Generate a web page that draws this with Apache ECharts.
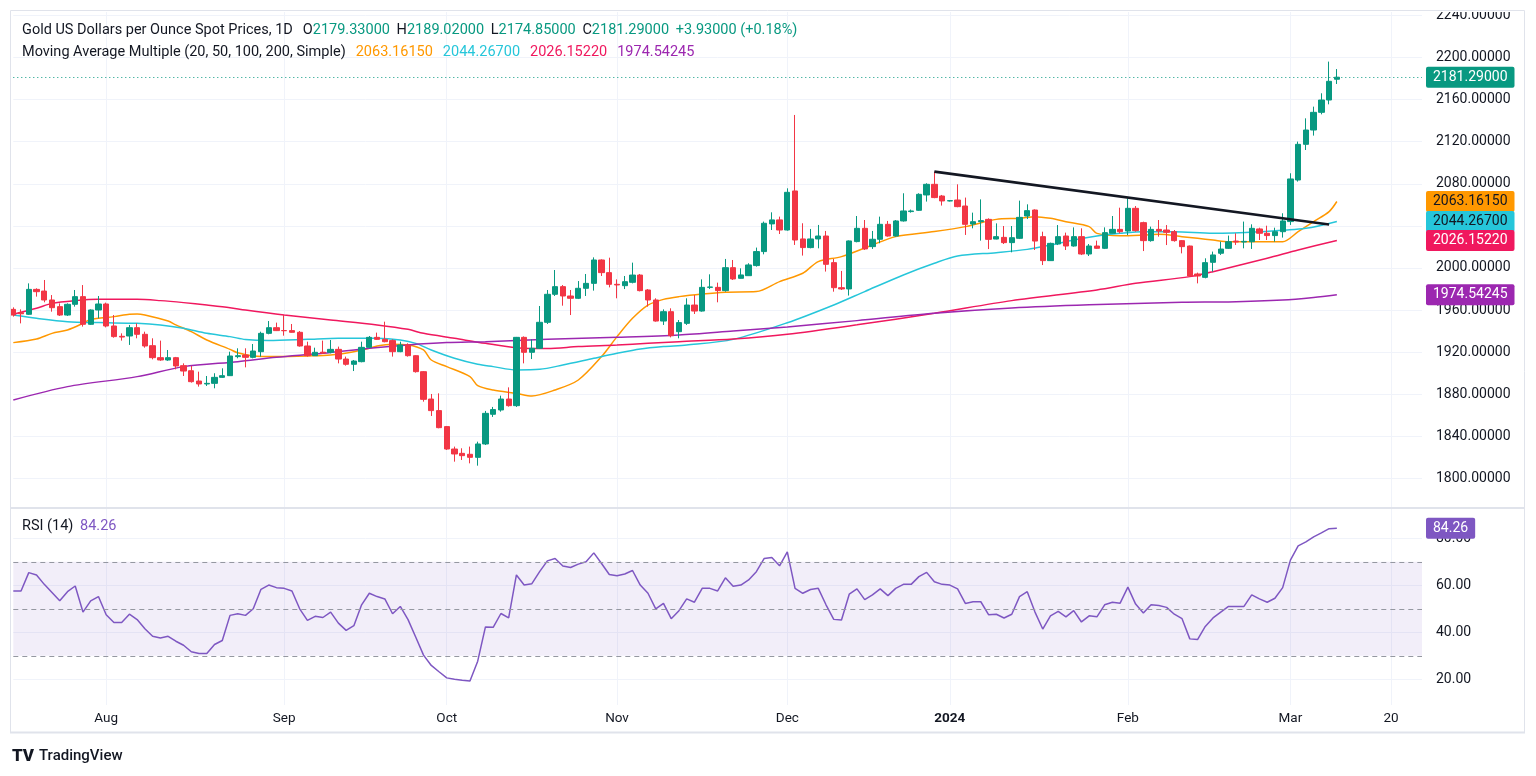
<!DOCTYPE html>
<html>
<head>
<meta charset="utf-8">
<title>Gold US Dollars per Ounce Spot Prices, 1D</title>
<script src="https://cdn.jsdelivr.net/npm/echarts/dist/echarts.min.js"></script>
<style>
  html, body { margin: 0; padding: 0; background: #fff; }
  #main { width: 1536px; height: 776px; }
</style>
</head>
<body>
<div id="main"></div>
<script>
// daily bars, [open, close, low, high]
const julBars = [
  [1960.7, 1955.3, 1953.8, 1962.6], [1957.5, 1956.5, 1947.4, 1960.7], [1956.0, 1979.7, 1955.4, 1985.4],
  [1979.7, 1977.5, 1972.8, 1980.7], [1978.1, 1969.6, 1967.4, 1988.6], [1969.6, 1962.3, 1958.5, 1974.3],
  [1963.3, 1955.3, 1954.4, 1966.4], [1955.3, 1965.5, 1954.4, 1966.4], [1965.5, 1972.8, 1963.3, 1979.1],
  [1972.8, 1946.5, 1944.3, 1983.8], [1946.5, 1960.1, 1945.9, 1960.7], [1960.1, 1965.8, 1952.2, 1973.4]
]
const augBars = [
  [1965.8, 1944.9, 1943.6, 1967.1], [1944.9, 1934.8, 1933.8, 1955.3], [1935.1, 1934.4, 1931.0, 1937.9],
  [1935.4, 1943.3, 1926.9, 1945.9], [1943.3, 1937.0, 1933.2, 1947.4], [1937.0, 1925.9, 1924.3, 1939.5],
  [1926.2, 1914.8, 1913.2, 1933.2], [1914.8, 1912.6, 1911.8, 1931.0], [1912.6, 1914.8, 1911.8, 1922.1],
  [1914.8, 1906.9, 1903.7, 1915.5], [1907.2, 1902.1, 1897.4, 1909.4], [1902.4, 1892.0, 1891.1, 1906.9],
  [1892.6, 1889.8, 1887.3, 1901.5], [1889.8, 1890.4, 1887.9, 1897.4], [1890.4, 1896.1, 1885.7, 1900.0],
  [1896.1, 1897.7, 1895.5, 1904.7], [1897.7, 1916.4, 1897.4, 1920.5], [1915.8, 1916.7, 1914.2, 1923.7],
  [1917.3, 1915.1, 1905.6, 1923.7], [1915.1, 1921.1, 1914.2, 1927.8], [1920.5, 1937.9, 1915.8, 1939.5],
  [1937.9, 1943.3, 1937.0, 1949.6], [1943.3, 1940.5, 1940.1, 1948.1]
]
const sepBars = [
  [1940.6, 1940.4, 1935.7, 1955.3], [1940.5, 1938.9, 1938.6, 1946.8], [1938.9, 1925.9, 1925.3, 1940.1],
  [1925.9, 1916.7, 1915.8, 1930.0], [1916.7, 1919.9, 1916.4, 1924.3], [1920.0, 1919.2, 1918.3, 1931.0],
  [1919.9, 1922.7, 1918.9, 1931.6], [1922.7, 1913.5, 1909.4, 1925.3], [1913.5, 1908.5, 1907.2, 1915.8],
  [1908.5, 1911.6, 1902.1, 1912.6], [1911.0, 1924.6, 1910.4, 1930.0], [1924.6, 1934.1, 1923.7, 1935.4],
  [1934.1, 1932.2, 1931.6, 1938.6], [1932.2, 1930.0, 1929.4, 1949.0], [1931.0, 1920.5, 1915.8, 1932.2],
  [1920.5, 1926.9, 1920.0, 1930.0], [1926.9, 1916.7, 1915.8, 1928.4], [1916.7, 1901.5, 1900.6, 1917.3],
  [1901.5, 1875.2, 1873.0, 1902.1], [1875.5, 1864.5, 1859.4, 1880.3], [1864.5, 1848.3, 1847.7, 1880.9]
]
const octBars = [
  [1849.3, 1828.0, 1827.1, 1849.9], [1828.0, 1823.3, 1816.0, 1830.3], [1823.9, 1821.7, 1817.6, 1828.7],
  [1823.0, 1820.1, 1814.4, 1830.3], [1820.1, 1832.8, 1812.2, 1835.0], [1832.8, 1861.9, 1831.8, 1864.2],
  [1861.0, 1865.5, 1858.5, 1868.0], [1865.1, 1875.5, 1863.5, 1878.7], [1875.5, 1869.2, 1868.3, 1886.6],
  [1869.2, 1934.1, 1868.0, 1934.5], [1934.1, 1919.9, 1909.4, 1935.0], [1919.9, 1923.7, 1913.5, 1932.2],
  [1923.7, 1948.4, 1923.0, 1963.9], [1948.4, 1975.0, 1946.8, 1979.1], [1975.0, 1982.3, 1973.4, 1998.1],
  [1982.3, 1973.4, 1964.2, 1983.8], [1973.4, 1971.2, 1955.3, 1979.1], [1971.2, 1980.7, 1970.5, 1987.6],
  [1980.7, 1985.4, 1973.4, 1994.3], [1985.4, 2007.6, 1978.5, 2010.1], [2007.6, 1995.6, 1992.4, 2008.2],
  [1995.6, 1984.5, 1981.6, 2009.8]
]
const novBars = [
  [1984.5, 1983.9, 1971.2, 1989.2], [1983.2, 1987.0, 1980.0, 1992.4], [1986.4, 1993.3, 1985.4, 2005.1],
  [1993.3, 1978.5, 1977.8, 1994.3], [1979.1, 1969.6, 1963.3, 1980.0], [1969.6, 1949.6, 1949.0, 1971.2],
  [1949.6, 1958.5, 1945.9, 1960.7], [1958.5, 1935.7, 1934.1, 1961.7], [1939.5, 1948.1, 1933.2, 1950.6],
  [1947.4, 1964.8, 1945.9, 1971.2], [1964.8, 1959.1, 1956.3, 1974.3], [1959.1, 1981.6, 1958.5, 1989.2],
  [1981.6, 1982.0, 1980.0, 1994.0], [1981.6, 1978.5, 1967.4, 1986.1], [1978.5, 2000.3, 1977.5, 2008.6],
  [2000.3, 1989.6, 1988.6, 2007.6], [1990.2, 1993.4, 1990.0, 1999.7], [1992.7, 2002.9, 1992.5, 2004.5],
  [2002.3, 2015.6, 2001.3, 2019.4], [2015.6, 2042.5, 2013.0, 2044.1], [2041.9, 2045.7, 2036.1, 2052.9],
  [2045.7, 2036.1, 2032.3, 2048.8]
]
const decBars = [
  [2036.1, 2071.9, 2035.5, 2075.7], [2073.2, 2026.6, 2021.9, 2145.4], [2027.6, 2019.4, 2011.8, 2042.5],
  [2019.4, 2027.6, 2018.7, 2037.1], [2027.6, 2030.4, 2018.7, 2040.9], [2030.4, 2003.5, 1996.6, 2035.2],
  [2005.1, 1981.3, 1977.5, 2008.6], [1981.3, 1980.1, 1979.1, 1997.2], [1980.1, 2025.7, 1973.8, 2026.2],
  [2025.1, 2037.7, 2024.4, 2049.4], [2037.7, 2018.1, 2017.1, 2045.6], [2020.3, 2027.3, 2018.1, 2035.2],
  [2027.3, 2041.5, 2023.5, 2048.8], [2041.5, 2030.4, 2029.8, 2044.7], [2030.4, 2044.7, 2029.8, 2045.6],
  [2044.7, 2054.2, 2044.1, 2071.0], [2053.6, 2054.2, 2052.6, 2055.5], [2054.8, 2070.0, 2054.2, 2071.0],
  [2069.4, 2079.5, 2063.1, 2080.5], [2079.5, 2066.9, 2066.3, 2091.6], [2068.4, 2063.7, 2059.3, 2069.4]
]
const janBars = [
  [2063.7, 2064.0, 2063.2, 2064.5], [2064.6, 2058.3, 2057.7, 2079.5], [2058.9, 2041.5, 2031.4, 2066.9],
  [2041.8, 2044.0, 2037.7, 2052.6], [2044.0, 2045.0, 2026.0, 2065.2], [2046.2, 2027.2, 2018.0, 2047.2],
  [2027.5, 2029.8, 2027.2, 2042.4], [2029.1, 2024.1, 2022.8, 2039.9], [2024.1, 2028.8, 2014.9, 2039.9],
  [2028.2, 2048.1, 2027.5, 2064.0], [2049.4, 2054.5, 2046.5, 2060.5], [2055.1, 2025.6, 2017.1, 2055.7],
  [2029.8, 2007.0, 2002.8, 2034.5], [2007.0, 2023.4, 2006.9, 2024.1], [2022.8, 2029.8, 2021.8, 2040.8],
  [2030.4, 2020.9, 2017.1, 2033.6], [2020.9, 2029.8, 2020.3, 2038.6], [2029.8, 2013.3, 2012.3, 2037.7],
  [2013.3, 2020.9, 2011.4, 2022.8], [2020.9, 2018.7, 2018.2, 2026.0], [2018.7, 2033.6, 2018.0, 2038.6],
  [2033.0, 2036.7, 2032.9, 2049.4], [2036.7, 2034.5, 2032.9, 2057.3]
]
const febBars = [
  [2035.1, 2056.7, 2031.3, 2066.2], [2056.7, 2035.5, 2034.5, 2058.9], [2043.1, 2026.0, 2016.1, 2044.0],
  [2026.0, 2036.7, 2025.0, 2039.3], [2036.7, 2035.1, 2029.8, 2045.6], [2036.1, 2033.9, 2021.8, 2040.8],
  [2034.5, 2026.0, 2025.0, 2036.1], [2026.0, 2020.3, 2013.9, 2026.6], [2020.9, 1992.4, 1991.8, 2021.3],
  [1994.3, 1992.4, 1985.4, 1995.6], [1991.1, 2005.1, 1990.2, 2009.2], [2005.4, 2012.4, 1996.5, 2015.6],
  [2014.0, 2018.0, 2012.4, 2025.0], [2018.7, 2025.0, 2018.1, 2030.8], [2025.6, 2024.7, 2021.9, 2033.0],
  [2024.7, 2025.3, 2018.7, 2044.1], [2025.0, 2037.7, 2018.1, 2041.5], [2037.1, 2033.0, 2026.6, 2038.3],
  [2033.0, 2030.8, 2026.6, 2040.2], [2030.8, 2034.5, 2025.0, 2038.3], [2034.5, 2044.7, 2028.9, 2052.0]
]
const marBars = [
  [2044.1, 2084.6, 2040.9, 2090.0], [2083.6, 2117.5, 2082.1, 2120.1], [2117.5, 2131.1, 2112.1, 2142.2],
  [2131.1, 2147.9, 2125.8, 2153.3], [2147.9, 2159.6, 2146.0, 2166.0], [2159.6, 2177.36, 2155.5, 2196.1],
  [2179.33, 2181.29, 2174.85, 2189.02]
]

// moving averages, [bar number, value]
const ma20Points = [
  [1, 1929.1], [4, 1932.5], [6, 1937.9], [8, 1941.1], [10, 1947.4], [11, 1951.2], [14, 1953.8], [16, 1956.0],
  [17, 1956.3], [18, 1955.3], [21, 1949.6], [22, 1945.9], [24, 1939.5], [26, 1931.6], [29, 1922.7], [30, 1919.4],
  [32, 1916.4], [35, 1915.8], [39, 1916.4], [42, 1917.3], [45, 1920.5], [47, 1923.7], [48, 1925.9], [50, 1927.5],
  [52, 1926.9], [54, 1922.1], [55, 1912.6], [57, 1906.3], [60, 1896.8], [61, 1888.3], [63, 1884.1], [66, 1880.9],
  [68, 1878.4], [71, 1884.1], [74, 1893.6], [77, 1915.8], [79, 1934.8], [81, 1952.2], [83, 1964.8], [85, 1970.2],
  [87, 1972.8], [90, 1975.3], [93, 1977.0], [97, 1977.6], [100, 1987.1], [103, 1995.0], [105, 2006.1], [108, 2010.8],
  [112, 2021.9], [115, 2029.8], [120, 2034.6], [124, 2039.3], [128, 2046.2], [131, 2047.2], [133, 2048.8], [135, 2047.2],
  [137, 2044.0], [140, 2039.3], [141, 2032.9], [144, 2030.7], [147, 2031.3], [149, 2032.0], [152, 2029.8], [154, 2028.2],
  [156, 2026.6], [158, 2025.0], [163, 2025.0], [165, 2025.0], [167, 2034.5], [169, 2044.0], [171, 2053.6], [172, 2063.1615]
]
const ma50Points = [
  [1, 1955.3], [4, 1952.2], [8, 1949.0], [12, 1948.1], [17, 1947.4], [20, 1945.9], [23, 1942.7], [26, 1937.9],
  [29, 1934.8], [31, 1932.0], [34, 1931.0], [39, 1932.2], [43, 1933.2], [48, 1933.2], [51, 1931.6], [53, 1928.4],
  [55, 1922.1], [58, 1914.2], [61, 1908.5], [63, 1906.3], [66, 1903.1], [69, 1903.7], [72, 1907.8], [76, 1914.2],
  [79, 1918.9], [82, 1923.0], [85, 1925.3], [88, 1926.8], [94, 1932.2], [101, 1948.0], [107, 1964.9], [111, 1977.6],
  [116, 1993.4], [120, 2004.5], [123, 2011.4], [128, 2014.6], [132, 2017.7], [135, 2021.8], [138, 2026.6], [141, 2030.4],
  [144, 2032.9], [147, 2034.5], [151, 2034.5], [156, 2033.0], [162, 2034.5], [168, 2037.7], [172, 2044.267]
]
const ma100Points = [
  [1, 1956.0], [4, 1961.7], [6, 1966.4], [9, 1969.0], [12, 1970.2], [17, 1970.2], [20, 1969.0], [23, 1967.1],
  [26, 1964.8], [29, 1962.3], [31, 1960.0], [36, 1955.3], [42, 1950.6], [48, 1945.9], [52, 1941.7], [54, 1937.9],
  [58, 1933.2], [62, 1928.4], [66, 1924.3], [70, 1923.4], [74, 1925.3], [79, 1926.8], [83, 1928.4], [87, 1930.0],
  [94, 1932.5], [101, 1937.0], [110, 1946.0], [120, 1957.0], [130, 1969.0], [141, 1979.1], [146, 1985.4], [153, 1991.8],
  [156, 1996.5], [163, 2009.2], [167, 2017.1], [172, 2026.1522]
]
const ma200Points = [
  [1, 1874.6], [8, 1887.3], [17, 1896.8], [23, 1906.3], [30, 1911.0], [35, 1915.1], [41, 1918.9], [47, 1923.7],
  [52, 1926.9], [57, 1929.1], [62, 1930.0], [70, 1932.2], [79, 1934.1], [87, 1936.3], [94, 1940.1], [101, 1944.0],
  [110, 1950.0], [120, 1957.0], [130, 1962.0], [140, 1965.0], [152, 1967.4], [158, 1967.8], [165, 1969.6], [169, 1972.0],
  [172, 1974.54245]
]
// drawn trend line, [bar number, value]
const trendPoints = [[120, 2091.6], [171, 2041.3]]

// RSI (14) per bar
const rsiJul = [57.6, 57.6, 65.4, 64.4, 60.4, 56.9, 53.4, 57.3, 59.7, 48.6, 53.4, 55.2]
const rsiAug = [47.5, 44.2, 44.2, 47.7, 45.4, 41.5, 38.3, 37.6, 38.3, 36.2, 34.5, 31.7, 31.0, 31.0, 34.8, 36.5,
  47.2, 47.9, 47.2, 50.0, 58.3, 60.1, 59.0]
const rsiSep = [58.7, 57.6, 50.0, 45.1, 46.8, 46.3, 48.6, 43.9, 40.8, 42.8, 51.7, 56.6, 55.2, 54.2, 47.9, 51.0,
  45.4, 37.9, 30.3, 25.9, 23.2]
const rsiOct = [20.6, 20.0, 19.6, 19.3, 27.7, 42.3, 42.1, 48.0, 46.1, 64.4, 60.1, 60.7, 65.8, 70.4, 71.4, 68.2,
  67.6, 69.0, 70.0, 73.8, 69.3, 64.6]
const rsiNov = [64.1, 64.8, 66.3, 60.1, 56.6, 50.0, 52.3, 45.8, 49.2, 54.2, 52.8, 58.7, 58.7, 57.6, 63.2, 59.6,
  60.1, 62.3, 65.8, 71.4, 71.8, 68.3]
const rsiDec = [74.2, 58.7, 56.6, 58.2, 58.7, 51.7, 45.5, 45.2, 56.2, 58.5, 53.9, 55.9, 58.5, 55.6, 58.7, 60.4,
  60.4, 63.7, 65.5, 61.5, 60.4]
const rsiJan = [60.1, 58.5, 52.3, 53.0, 53.0, 47.5, 47.7, 46.1, 47.7, 55.2, 57.3, 48.6, 41.4, 47.0, 48.9, 46.6,
  49.2, 44.4, 47.0, 46.6, 51.7, 52.8, 52.4]
const rsiFeb = [59.2, 52.0, 48.2, 51.7, 51.4, 50.6, 47.7, 45.8, 37.2, 36.9, 42.5, 46.1, 48.6, 51.0, 51.0, 51.0,
  55.9, 54.2, 52.8, 54.5, 59.0]
const rsiMar = [70.7, 76.8, 78.5, 80.6, 82.3, 84.1, 84.26]

const priceTicks = [1800, 1840, 1880, 1920, 1960, 2000, 2040, 2080, 2120, 2160, 2200, 2240]
const rsiTicks = [20, 40, 60, 80]
const rsiLevels = [30, 50, 70]
const tickLabels = {
  "2023-08-01": "Aug", "2023-09-01": "Sep", "2023-10-02": "Oct", "2023-11-01": "Nov", "2023-12-01": "Dec",
  "2024-01-01": "2024", "2024-02-01": "Feb", "2024-03-01": "Mar", "2024-03-20": "20",
}

// weekday dates from the first bar, with room on the right
const dates = []
for (let t = Date.UTC(2023, 6, 14); dates.length < 183; t += 86400000) {
  const day = new Date(t).getUTCDay()
  if (day !== 0 && day !== 6) dates.push(new Date(t).toISOString().slice(0, 10))
}

const candles = [...julBars, ...augBars, ...sepBars, ...octBars, ...novBars, ...decBars, ...janBars, ...febBars, ...marBars]
const rsi = [...rsiJul, ...rsiAug, ...rsiSep, ...rsiOct, ...rsiNov, ...rsiDec, ...rsiJan, ...rsiFeb, ...rsiMar]
const toSeries = (pts) => pts.map(([n, v]) => [n - 1, v])

const UP = "#089981"
const DOWN = "#F23645"
const TEXT = "#131722"
const GRID = "#f0f3fa"
const FONT = "Roboto"
const FS = 14.5
const MA_COLORS = ["#FF9800", "#26C6DA", "#F0185E", "#9C27B0"]
const RSI_COLOR = "#7E57C2"

const last = candles[candles.length - 1]
const prevClose = candles[candles.length - 2][1]
const change = last[1] - prevClose

const isTick = (i, v) => v in tickLabels

function priceTag(value, bg, fg) {
  return {
    yAxis: value,
    lineStyle: { color: "rgba(0,0,0,0)" },
    label: {
      show: true, position: "end", distance: 4,
      formatter: value.toFixed(5),
      backgroundColor: bg, color: fg,
      fontFamily: FONT, fontSize: 14, padding: [4, 7, 3, 7], borderRadius: 2,
    },
  }
}

function maSeries(name, pts, color, fg) {
  const lastVal = pts[pts.length - 1][1]
  return {
    name, type: "line", xAxisIndex: 0, yAxisIndex: 0,
    data: toSeries(pts), smooth: 0.3, showSymbol: false, symbol: "none",
    lineStyle: { color, width: 1.5 }, z: 3,
    markLine: { silent: true, symbol: ["none", "none"], z: 20, data: [priceTag(lastVal, color, fg)] },
  }
}

const chart = echarts.init(document.getElementById("main"))

chart.setOption({
  animation: false,
  backgroundColor: "#ffffff",
  textStyle: { fontFamily: FONT },
  grid: [
    { left: 13.3, width: 1408.7, top: 12, height: 495 },
    { left: 13.3, width: 1408.7, top: 509, height: 196 },
  ],
  xAxis: [0, 1].map((g) => ({
    type: "category", gridIndex: g, data: dates, boundaryGap: false,
    axisLine: { show: false }, axisTick: { show: false },
    splitLine: { show: true, interval: isTick, lineStyle: { color: GRID, width: 1 } },
    axisLabel: g === 0 ? { show: false } : {
      show: true, interval: isTick, margin: 7, color: TEXT, fontSize: 13.5, fontFamily: FONT,
      formatter: (v) => (tickLabels[v] === "2024" ? "{b|2024}" : tickLabels[v] || ""),
      rich: { b: { fontWeight: "bold", fontSize: 13.5, color: TEXT, fontFamily: FONT } },
    },
  })),
  yAxis: [
    {
      type: "value", gridIndex: 0, position: "right", min: 1772.92, max: 2243.23, scale: true,
      axisLine: { show: false },
      axisTick: { show: false, customValues: priceTicks },
      axisLabel: { customValues: priceTicks, formatter: (v) => v.toFixed(5), margin: 14, color: TEXT, fontSize: 14, fontFamily: FONT },
      splitLine: { show: true, lineStyle: { color: GRID, width: 1 } },
    },
    {
      type: "value", gridIndex: 1, position: "right", min: 9.06, max: 92.47,
      axisLine: { show: false },
      axisTick: { show: false, customValues: rsiTicks },
      axisLabel: { customValues: rsiTicks, formatter: (v) => v.toFixed(2), margin: 14, color: TEXT, fontSize: 14, fontFamily: FONT },
      splitLine: { show: true, lineStyle: { color: GRID, width: 1 } },
    },
  ],
  series: [
    {
      name: "Gold", type: "candlestick", xAxisIndex: 0, yAxisIndex: 0,
      data: candles, barWidth: 5.8, clip: false, z: 4,
      itemStyle: { color: UP, color0: DOWN, borderColor: UP, borderColor0: DOWN, borderWidth: 1 },
      markLine: {
        silent: true, symbol: ["none", "none"], z: 20,
        data: [{
          ...priceTag(last[1], UP, "#ffffff"),
          lineStyle: { color: UP, type: [1, 3], width: 1 },
        }],
      },
    },
    maSeries("MA 20", ma20Points, MA_COLORS[0], TEXT),
    maSeries("MA 50", ma50Points, MA_COLORS[1], TEXT),
    maSeries("MA 100", ma100Points, MA_COLORS[2], "#ffffff"),
    maSeries("MA 200", ma200Points, MA_COLORS[3], "#ffffff"),
    {
      name: "Trend", type: "line", xAxisIndex: 0, yAxisIndex: 0,
      data: toSeries(trendPoints), symbol: "none", z: 5,
      lineStyle: { color: TEXT, width: 2.6 },
    },
    {
      name: "RSI", type: "line", xAxisIndex: 1, yAxisIndex: 1,
      data: rsi, symbol: "none", showSymbol: false,
      lineStyle: { color: RSI_COLOR, width: 1.5 }, z: 4,
      markArea: {
        silent: true,
        itemStyle: { color: "rgba(126,87,194,0.1)" },
        data: [[{ yAxis: rsiLevels[0] }, { yAxis: rsiLevels[2] }]],
      },
      markLine: {
        silent: true, symbol: ["none", "none"], z: 20,
        data: [
          ...rsiLevels.map((v) => ({
            yAxis: v, label: { show: false },
            lineStyle: { color: "#9598A1", type: [5, 4], width: 1 },
          })),
          {
            yAxis: rsi[rsi.length - 1],
            lineStyle: { color: "rgba(0,0,0,0)" },
            label: {
              show: true, position: "end", distance: 4,
              formatter: rsi[rsi.length - 1].toFixed(2),
              backgroundColor: RSI_COLOR, color: "#ffffff",
              fontFamily: FONT, fontSize: 14, padding: [4, 7, 3, 7], borderRadius: 2,
            },
          },
        ],
      },
    },
  ],
  graphic: [
    { type: "rect", z: 50, shape: { x: 0, y: 0, width: 1536, height: 12 }, style: { fill: "#ffffff" } },
    { type: "rect", z: 51, shape: { x: 10.5, y: 10.5, width: 1514, height: 722 }, style: { fill: "none", stroke: "#e0e3eb", lineWidth: 1 } },
    { type: "rect", z: 51, shape: { x: 10, y: 731.5, width: 1515, height: 2 }, style: { fill: "#e0e3eb" } },
    { type: "rect", z: 51, shape: { x: 10, y: 507, width: 1515, height: 2 }, style: { fill: "#e0e3eb" } },
    {
      type: "text", z: 60, left: 22, top: 23,
      style: {
        text: [
          "{t|Gold US Dollars per Ounce Spot Prices, 1D}   ",
          `{t|O}{g|${last[0].toFixed(5)}}  {t|H}{g|${last[3].toFixed(5)}}  `,
          `{t|L}{g|${last[2].toFixed(5)}}  {t|C}{g|${last[1].toFixed(5)}}  `,
          `{g|+${change.toFixed(5)} (+${((change / prevClose) * 100).toFixed(2)}%)}`,
        ].join(""),
        rich: {
          t: { fill: TEXT, fontSize: FS, fontFamily: FONT },
          g: { fill: UP, fontSize: FS, fontFamily: FONT },
        },
      },
    },
    {
      type: "text", z: 60, left: 22, top: 45,
      style: {
        text: [
          "{t|Moving Average Multiple (20, 50, 100, 200, Simple)}   ",
          `{a|${ma20Points[ma20Points.length - 1][1].toFixed(5)}}   `,
          `{b|${ma50Points[ma50Points.length - 1][1].toFixed(5)}}   `,
          `{c|${ma100Points[ma100Points.length - 1][1].toFixed(5)}}   `,
          `{d|${ma200Points[ma200Points.length - 1][1].toFixed(5)}}`,
        ].join(""),
        rich: {
          t: { fill: TEXT, fontSize: FS, fontFamily: FONT },
          a: { fill: MA_COLORS[0], fontSize: FS, fontFamily: FONT },
          b: { fill: MA_COLORS[1], fontSize: FS, fontFamily: FONT },
          c: { fill: MA_COLORS[2], fontSize: FS, fontFamily: FONT },
          d: { fill: MA_COLORS[3], fontSize: FS, fontFamily: FONT },
        },
      },
    },
    {
      type: "text", z: 60, left: 22, top: 519,
      style: {
        text: `{t|RSI (14)}  {p|${rsi[rsi.length - 1].toFixed(2)}}`,
        rich: {
          t: { fill: TEXT, fontSize: FS, fontFamily: FONT },
          p: { fill: RSI_COLOR, fontSize: FS, fontFamily: FONT },
        },
      },
    },
    {
      type: "text", z: 60, left: 12, top: 748,
      style: { text: "TV", fill: TEXT, font: "900 17px Roboto" },
    },
    {
      type: "text", z: 60, left: 39, top: 749,
      style: { text: "TradingView", fill: TEXT, font: "500 15px Roboto" },
    },
  ],
})
</script>
</body>
</html>
